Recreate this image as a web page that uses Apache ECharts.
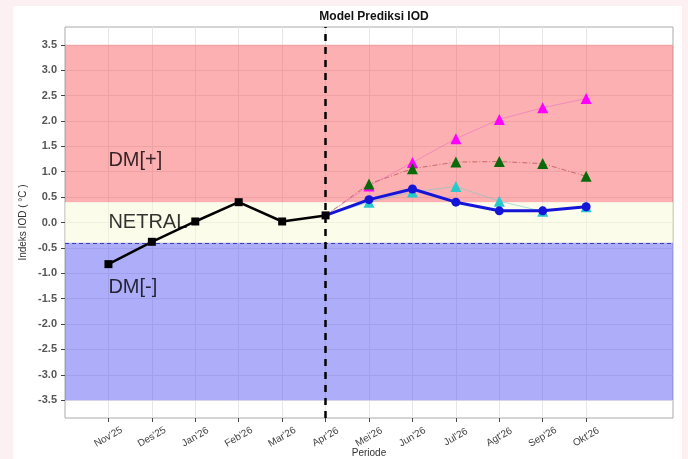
<!DOCTYPE html>
<html>
<head>
<meta charset="utf-8">
<script src="https://cdn.jsdelivr.net/npm/echarts@6/dist/echarts.min.js"></script>
<style>
  html, body { margin: 0; padding: 0; background: #fcf0f2; }
  #chart { width: 688px; height: 459px; }
</style>
</head>
<body>
<div id="chart"></div>
<script>
const periods = ["Nov'25", "Des'25", "Jan'26", "Feb'26", "Mar'26", "Apr'26",
  "Mei'26", "Jun'26", "Jul'26", "Agt'26", "Sep'26", "Okt'26"]
const yTicks = [-3.5, -3.0, -2.5, -2.0, -1.5, -1.0, -0.5, 0.0, 0.5, 1.0, 1.5, 2.0, 2.5, 3.0, 3.5]

// observasi Nov'25 - Apr'26
const observed = [-0.82, -0.38, 0.02, 0.40, 0.02, 0.14]
// prediksi Apr'26 - Okt'26 (titik pertama = Apr'26)
const forecastMean = [0.14, 0.45, 0.66, 0.40, 0.23, 0.23, 0.31]
const forecastMagenta = [0.14, 0.72, 1.18, 1.65, 2.03, 2.26, 2.44]
const forecastGreen = [0.14, 0.76, 1.06, 1.19, 1.20, 1.16, 0.91]
const forecastCyan = [0.14, 0.40, 0.60, 0.71, 0.42, 0.22, 0.31]

const dmPlus = [0.4, 3.5]
const netral = [-0.4, 0.4]
const dmMinus = [-3.5, -0.4]
const zoneNames = ['DM[+]', 'NETRAL', 'DM[-]']
const zoneY = [1.22, 0.0, -1.28]
const startIdx = 5

const chart = echarts.init(document.getElementById('chart'))

function fc(values) {
  return values.map((v, i) => i === 0
    ? { value: [startIdx + i, v], symbol: 'none' }
    : [startIdx + i, v])
}

function triSeries(name, values, color, lineStyle, z) {
  return {
    name,
    type: 'line',
    data: fc(values),
    symbol: 'triangle',
    symbolSize: 11,
    itemStyle: { color },
    lineStyle,
    z,
    silent: true
  }
}

chart.setOption({
  animation: false,
  textStyle: { fontFamily: 'Liberation Sans, Arial, sans-serif' },
  graphic: [{
    type: 'rect',
    shape: { x: 13, y: 6, width: 669, height: 460 },
    style: { fill: '#ffffff' },
    z: -10
  }],
  title: {
    text: 'Model Prediksi IOD',
    left: 369,
    textAlign: 'center',
    top: 6,
    textStyle: { fontSize: 12, fontWeight: 'bold', color: '#111' }
  },
  grid: {
    left: 65,
    right: 15,
    top: 27,
    bottom: 41,
    outerBoundsMode: 'none',
    show: true,
    borderColor: '#aaaaaa',
    borderWidth: 1,
    backgroundColor: '#ffffff'
  },
  xAxis: {
    type: 'value',
    min: -1,
    max: 13,
    name: 'Periode',
    nameLocation: 'middle',
    nameGap: 30,
    nameMoveOverlap: false,
    nameTextStyle: { fontSize: 10, color: '#333' },
    axisLine: { show: false, onZero: false },
    axisTick: {
      show: true,
      length: 4,
      lineStyle: { color: '#444' },
      customValues: periods.map((p, i) => i)
    },
    axisLabel: {
      customValues: periods.map((p, i) => i),
      formatter: v => periods[v],
      rotate: 30,
      align: 'center',
      verticalAlign: 'middle',
      margin: 19,
      fontSize: 10,
      color: '#444'
    },
    splitLine: { show: true, lineStyle: { color: '#e6e6e6', width: 1 } }
  },
  yAxis: {
    type: 'value',
    min: -3.85,
    max: 3.85,
    name: 'Indeks IOD ( °C )',
    nameLocation: 'middle',
    nameGap: 37,
    nameMoveOverlap: false,
    nameTextStyle: { fontSize: 10, color: '#333' },
    axisLine: { show: false, onZero: false },
    axisTick: {
      show: true,
      length: 4,
      lineStyle: { color: '#444' },
      customValues: yTicks
    },
    axisLabel: {
      customValues: yTicks,
      formatter: v => v.toFixed(1),
      fontSize: 11,
      fontWeight: 'bold',
      color: '#555',
      margin: 8
    },
    splitLine: { show: true, lineStyle: { color: '#e6e6e6', width: 1 } }
  },
  series: [
    {
      name: 'zona',
      type: 'line',
      data: [],
      z: 1,
      silent: true,
      markArea: {
        silent: true,
        data: [
          [{ yAxis: dmPlus[0], itemStyle: { color: 'rgba(248,80,85,0.45)' } }, { yAxis: dmPlus[1] }],
          [{ yAxis: netral[0], itemStyle: { color: 'rgba(250,250,215,0.5)' } }, { yAxis: netral[1] }],
          [{ yAxis: dmMinus[0], itemStyle: { color: 'rgba(80,80,245,0.47)' } }, { yAxis: dmMinus[1] }]
        ]
      },
      markLine: {
        silent: true,
        symbol: 'none',
        label: { show: false },
        data: [
          { yAxis: dmMinus[1], lineStyle: { color: '#3b3bbf', type: [4, 3], width: 1.2 } },
          { xAxis: startIdx, lineStyle: { color: '#000', type: [7, 6], width: 2.5 } }
        ]
      }
    },
    {
      name: 'label zona',
      type: 'scatter',
      symbol: 'circle',
      symbolSize: 2,
      itemStyle: { color: 'rgba(0,0,0,0)' },
      z: 2,
      silent: true,
      data: zoneNames.map((n, i) => ({ value: [0, zoneY[i]], name: n })),
      label: {
        show: true,
        position: 'right',
        distance: -1,
        formatter: p => p.name,
        fontSize: 20,
        color: '#000'
      }
    },
    triSeries('Magenta', forecastMagenta, '#ff00ff',
      { color: 'rgba(230,90,200,0.45)', width: 1 }, 3),
    triSeries('Hijau', forecastGreen, '#0a6a0a',
      { color: 'rgba(150,50,40,0.55)', width: 1, type: [5, 2, 1, 2] }, 4),
    triSeries('Cyan', forecastCyan, '#27c9cc',
      { color: 'rgba(120,200,200,0.6)', width: 1 }, 5),
    {
      name: 'Rata-rata',
      type: 'line',
      data: fc(forecastMean),
      symbol: 'circle',
      symbolSize: 9,
      itemStyle: { color: '#1515d8' },
      lineStyle: { color: '#1515d8', width: 3 },
      z: 6,
      silent: true
    },
    {
      name: 'Observasi',
      type: 'line',
      data: observed.map((v, i) => [i, v]),
      symbol: 'rect',
      symbolSize: 8,
      itemStyle: { color: '#000' },
      lineStyle: { color: '#000', width: 2.5 },
      z: 7,
      silent: true
    }
  ]
})
</script>
</body>
</html>
